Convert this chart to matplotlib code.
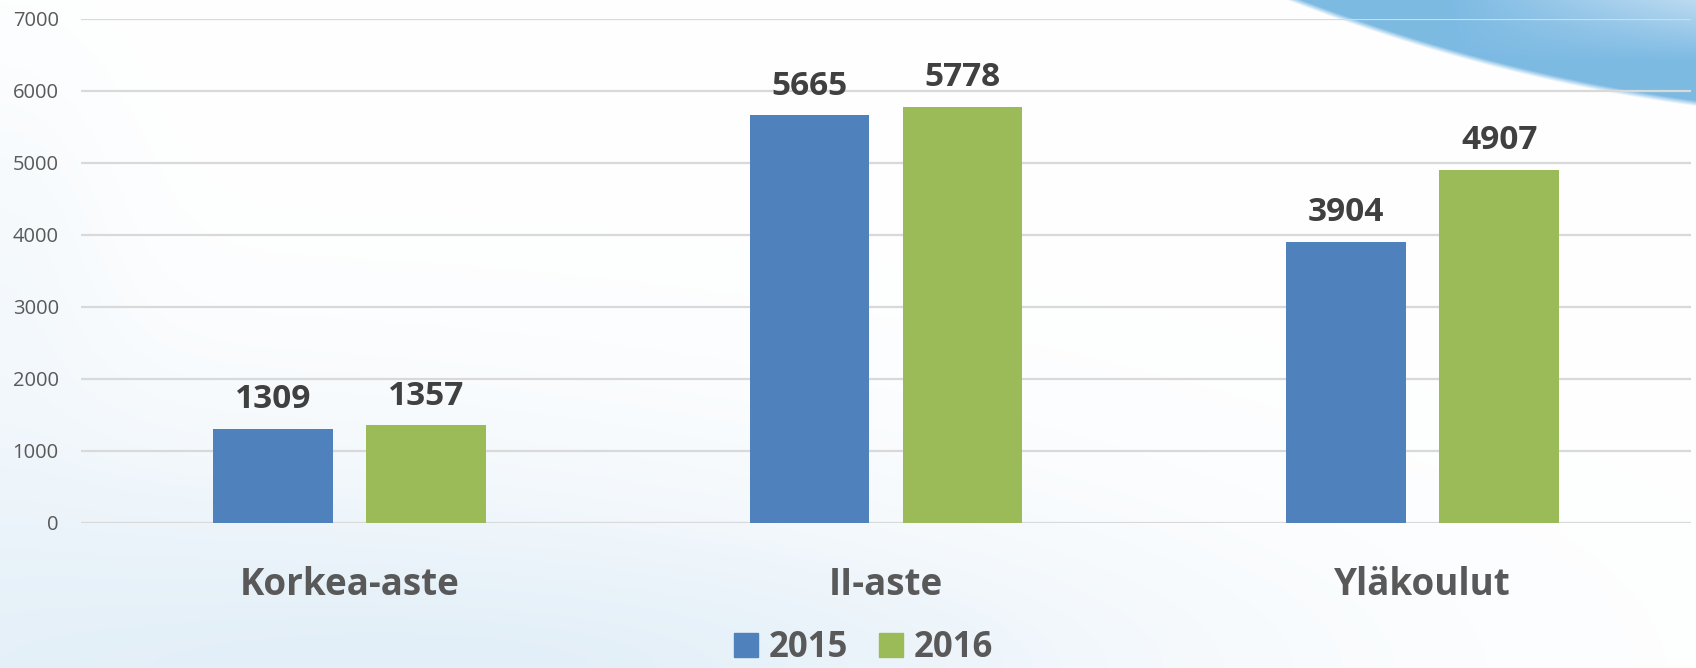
import numpy as np
import matplotlib.pyplot as plt
from matplotlib.patches import Patch

categories = ['Korkea-aste', 'II-aste', 'Yläkoulut']
years = ['2015', '2016']
values_2015 = [1309, 5665, 3904]
values_2016 = [1357, 5778, 4907]
colors = ['#4F81BD', '#9BBB59']

W, H = 1696, 668
fig = plt.figure(figsize=(W / 100, H / 100), dpi=100)
fig.patch.set_facecolor('white')

# background: light blue haze bottom-left and a swoosh top-right
yy, xx = np.mgrid[0:H, 0:W].astype(float)
bg = np.ones((H, W, 3))
haze = np.exp(-((xx / 1000) ** 2 + ((H - yy) / 260) ** 2)) * 0.6
haze += np.exp(-(((xx - 700) / 500) ** 2 + ((H - yy) / 120) ** 2)) * 0.25
haze += np.exp(-((xx / 120) ** 2 + ((yy - 250) / 200) ** 2)) * 0.2
haze = np.clip(haze, 0, 0.7)
tint = np.array([0.84, 0.91, 0.96])
bg = bg * (1 - haze[..., None]) + tint * haze[..., None]

d = xx - 1287
edge = 0.386 * d - 0.00031 * d ** 2
inside = (d > 0) & (yy < edge)
blue = np.array([0.49, 0.73, 0.89])
light = np.array([0.80, 0.89, 0.96])
mix = np.clip((xx - 1450) / 246, 0, 1) * np.clip(1 - yy / 60, 0, 1) * 0.8
sw = blue * (1 - mix[..., None]) + light * mix[..., None]
soft = np.clip((edge - yy) / 6, 0, 1) * inside
bg = bg * (1 - soft[..., None]) + sw * soft[..., None]

bgax = fig.add_axes([0, 0, 1, 1], zorder=-1)
bgax.imshow(bg, aspect='auto', extent=(0, 1, 0, 1), origin='upper')
bgax.axis('off')

ax = fig.add_axes([81 / W, 1 - 523 / H, (1691 - 81) / W, (523 - 19) / H])
ax.set_facecolor('none')

x = np.arange(len(categories))
w = 0.2235
off = 0.1425
b1 = ax.bar(x - off, values_2015, w, color=colors[0], zorder=3)
b2 = ax.bar(x + off, values_2016, w, color=colors[1], zorder=3)

for bars in (b1, b2):
    for rect in bars:
        ax.annotate(str(int(rect.get_height())),
                    (rect.get_x() + rect.get_width() / 2, rect.get_height()),
                    xytext=(0, 9), textcoords='offset points',
                    ha='center', va='bottom', fontsize=24,
                    fontweight='bold', family='Open Sans', color='#404040')

ax.set_xlim(-0.5, 2.5)
ax.set_ylim(0, 7000)
ax.set_yticks(range(0, 7001, 1000))
ax.yaxis.grid(True, color='#d9d9d9', linewidth=1.6, zorder=0)
ax.set_axisbelow(True)
for s in ax.spines.values():
    s.set_visible(False)
ax.tick_params(axis='both', length=0)
ax.tick_params(axis='y', labelsize=14.5, labelcolor='#595959', pad=16)
for lab in ax.get_yticklabels():
    lab.set_family('Open Sans')

ax.set_xticks(x)
ax.set_xticklabels(categories, fontsize=26.5, fontweight='bold',
                   family='Open Sans', color='#595959')
ax.tick_params(axis='x', pad=31)

handles = [Patch(color=c, label=y) for c, y in zip(colors, years)]
leg = fig.legend(handles=handles, loc='center', bbox_to_anchor=(0.509, 0.03),
                 ncol=2, frameon=False, handlelength=0.7, handleheight=0.7,
                 handletextpad=0.3, columnspacing=0.9, borderpad=0,
                 prop={'family': 'Open Sans', 'weight': 'bold', 'size': 25})
for t in leg.get_texts():
    t.set_color('#595959')

fig.savefig('out.png', dpi=100)
